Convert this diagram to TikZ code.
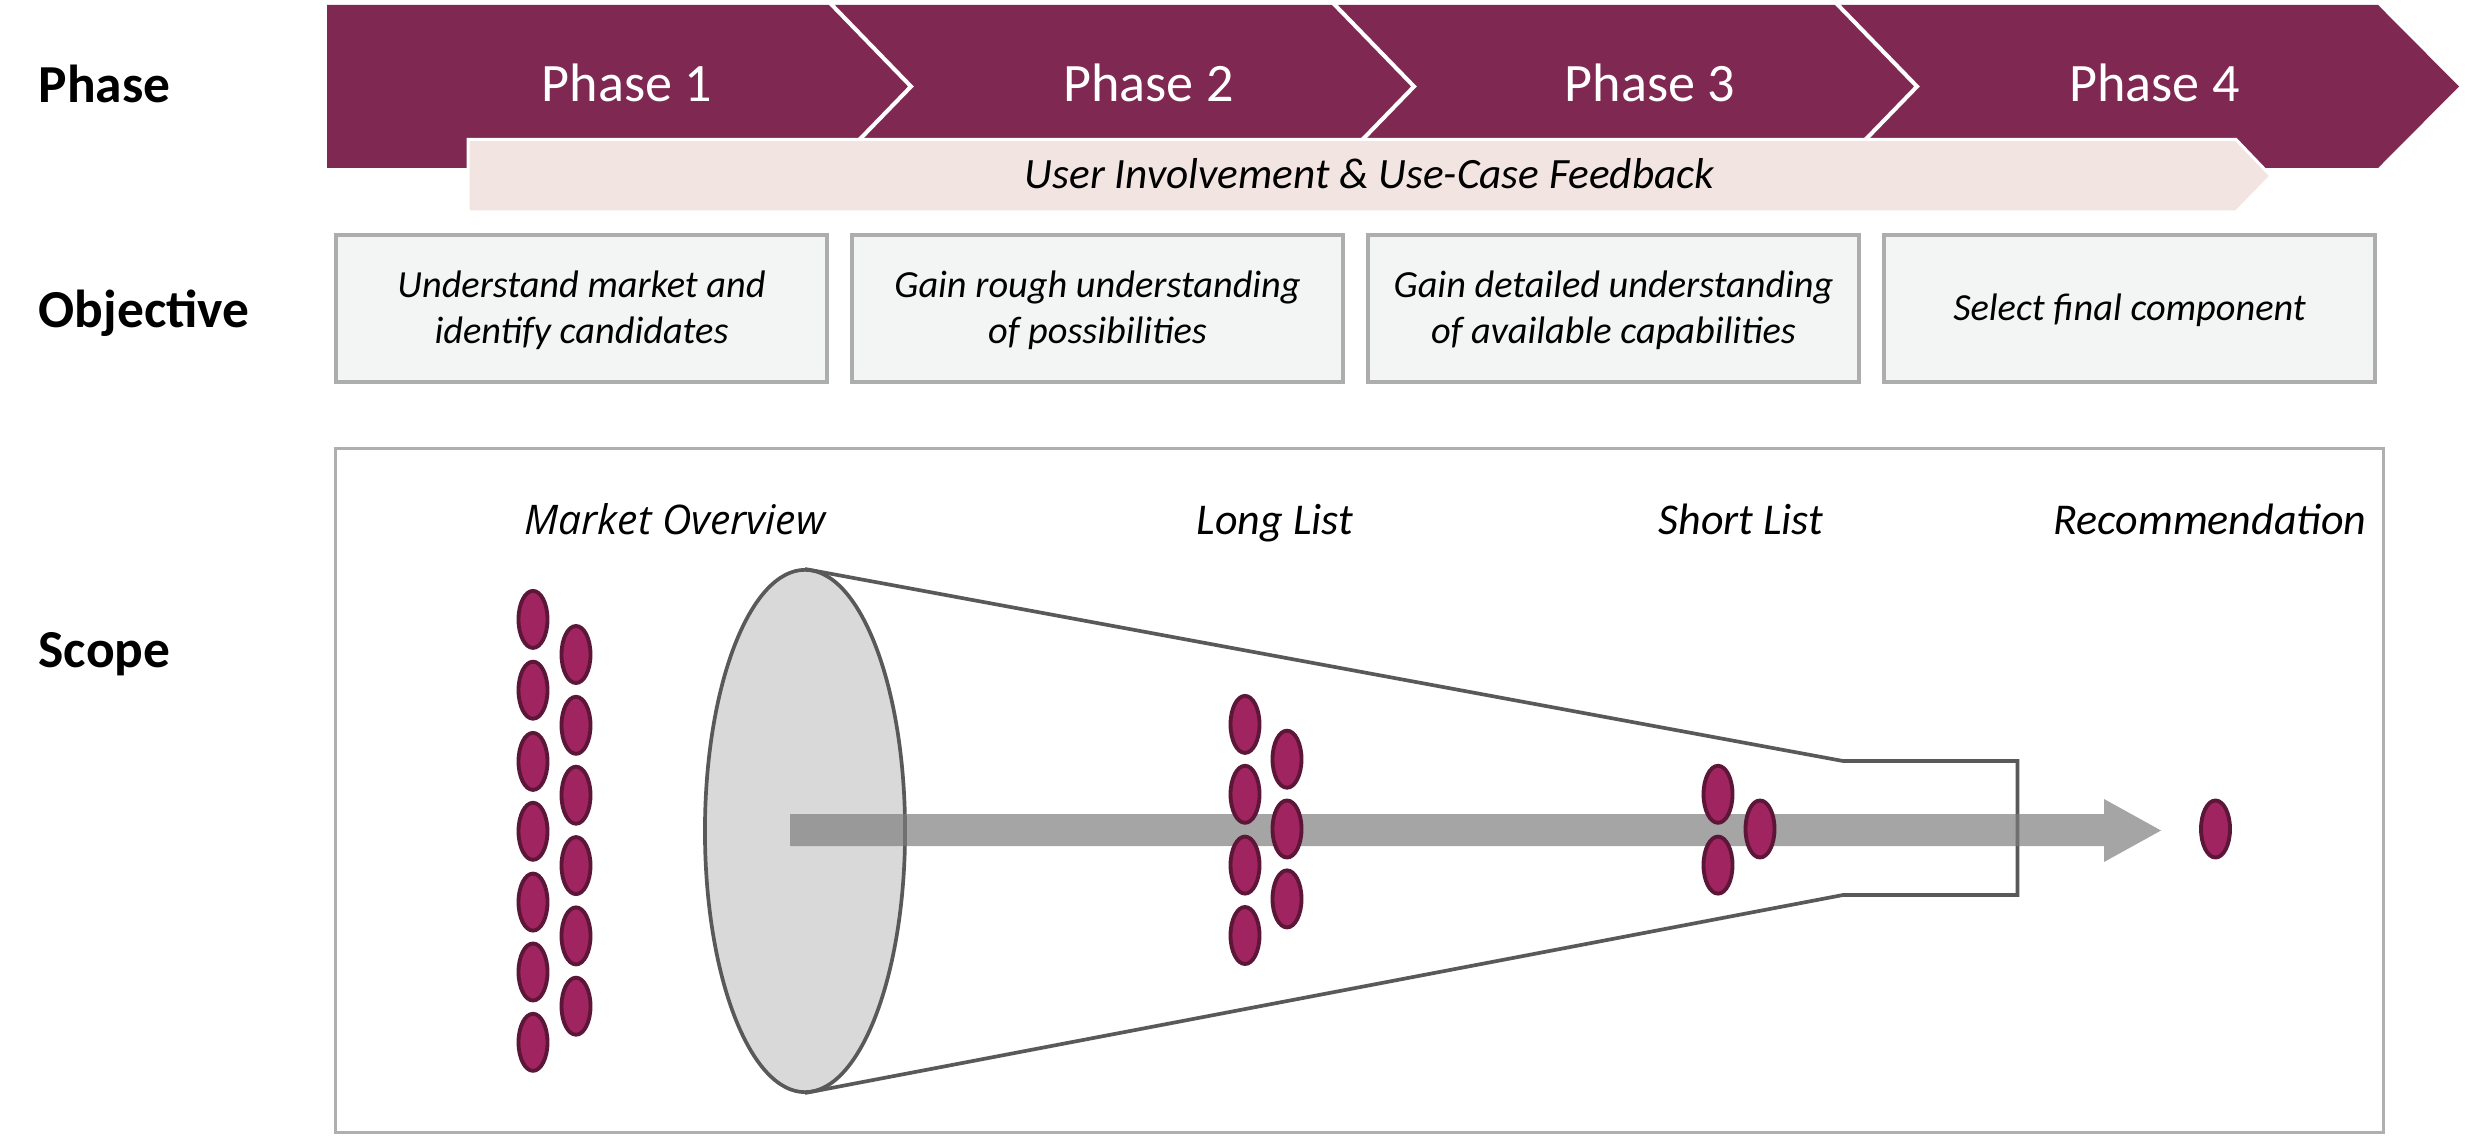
\documentclass[tikz,border=0pt]{standalone}
\usepackage{fontspec}
\setmainfont{Carlito}
\newfontfamily\mofont{Open Sans}
\usetikzlibrary{shapes.geometric}
\definecolor{chev}{RGB}{127,41,82}
\definecolor{fbfill}{RGB}{242,228,225}
\definecolor{objfill}{RGB}{243,245,244}
\definecolor{objborder}{RGB}{174,173,174}
\definecolor{scopeborder}{RGB}{175,175,175}
\definecolor{funnelline}{RGB}{89,89,89}
\definecolor{ellfill}{RGB}{217,217,217}
\definecolor{arrowgray}{RGB}{123,123,123}
\definecolor{candfill}{RGB}{160,36,95}
\definecolor{candborder}{RGB}{92,22,56}
\begin{document}
\begin{tikzpicture}[x=0.01cm,y=-0.01cm,
  rowlbl/.style={anchor=base west, inner sep=0pt, font=\fontsize{15.2}{18}\selectfont\bfseries},
  phasetxt/.style={anchor=base, inner sep=0pt, text=white, font=\fontsize{15.4}{18}\selectfont},
  fbtxt/.style={anchor=base, inner sep=0pt, font=\fontsize{12.3}{15}\selectfont\itshape},
  objbox/.style={draw=objborder, fill=objfill, line width=1.14pt, minimum width=4.91cm, minimum height=1.47cm, inner sep=0pt},
  objtxt/.style={align=center, inner sep=0pt, font=\fontsize{10.9}{13.1}\selectfont\itshape},
  scopetxt/.style={anchor=base, inner sep=0pt, font=\fontsize{12.5}{15}\selectfont\itshape},
  cand/.style={ellipse, draw=candborder, fill=candfill, line width=1.1pt, minimum width=0.29cm, minimum height=0.57cm, inner sep=0pt},
  funnel/.style={draw=funnelline, line width=1.05pt, line join=miter}
]
\useasboundingbox (0,0) rectangle (2467,1137);

% phase chevrons
\fill[chev] (327,5) -- (2378,5) -- (2459,86.5) -- (2378,168) -- (327,168) -- cycle;
\foreach \x in {830,1333,1836}
  \draw[white, line width=1.15pt] (\x,3) -- (\x+81,86.5) -- (\x,170);

% feedback bar
\filldraw[fill=fbfill, draw=white, line width=0.85pt] (468,139.5) -- (2236,139.5) -- (2271,176) -- (2236,212) -- (468,212) -- cycle;

\node[phasetxt] (p1) at (627,102) {Phase 1};
\node[phasetxt] (p2) at (1148.5,102) {Phase 2};
\node[phasetxt] (p3) at (1650,102) {Phase 3};
\node[phasetxt] (p4) at (2154.5,102) {Phase 4};
\node[fbtxt] (fb) at (1369.5,189) {User Involvement \& Use-Case Feedback};

% row labels
\node[rowlbl] (lphase) at (38,103) {Phase};
\node[rowlbl] (lobj) at (38,327.5) {Objective};
\node[rowlbl] (lscope) at (38,667) {Scope};

% objective boxes
\node[objbox] (o1) at (581.5,308.5) {};
\node[objbox] (o2) at (1097.5,308.5) {};
\node[objbox] (o3) at (1613.5,308.5) {};
\node[objbox] (o4) at (2129.5,308.5) {};
\node[objtxt] (t1) at (581.5,310) {Understand market and\\identify candidates};
\node[objtxt] (t2) at (1097.5,310) {Gain rough understanding\\of possibilities};
\node[objtxt] (t3) at (1613.5,310) {Gain detailed understanding\\of available capabilities};
\node[objtxt] (t4) at (2129.5,310) {Select final component};

% scope frame
\draw[scopeborder, line width=0.9pt] (335.5,448.5) rectangle (2383.5,1132.5);

\node[scopetxt, font=\fontsize{11.6}{14}\selectfont\mofont\itshape] (smo) at (675,535) {Market Overview};
\node[scopetxt] (sll) at (1275,535) {Long List};
\node[scopetxt] (ssl) at (1741,535) {Short List};
\node[scopetxt] (srec) at (2210,535) {Recommendation};

% funnel
\filldraw[funnel, fill=ellfill] (805,831) ellipse [x radius=1.00cm, y radius=2.61cm];
\draw[funnel] (805,569) -- (1843,761) -- (2017.5,761) -- (2017.5,895) -- (1843,895) -- (805,1093);

% flow arrow
\fill[arrowgray, opacity=0.68] (790,814) -- (2104,814) -- (2104,799) -- (2161,830.5) -- (2104,862) -- (2104,846) -- (790,846) -- cycle;

% candidates: market overview
\foreach \y [count=\i] in {619.4,690.2,761.4,831.3,902.1,972.0,1042.3}
  \node[cand] (ma\i) at (533,\y) {};
\foreach \y [count=\i] in {654.5,725.3,795.2,865.6,935.9,1006.2}
  \node[cand] (mb\i) at (576,\y) {};
% long list
\foreach \y [count=\i] in {724.4,794.3,865.1,935.5}
  \node[cand] (la\i) at (1245,\y) {};
\foreach \y [count=\i] in {759.2,829,898.9}
  \node[cand] (lb\i) at (1287,\y) {};
% short list
\node[cand] (sa1) at (1718,794.3) {};
\node[cand] (sa2) at (1718,865.1) {};
\node[cand] (sb1) at (1760,829) {};
% recommendation
\node[cand] (rec) at (2215.5,829) {};
\end{tikzpicture}
\end{document}
